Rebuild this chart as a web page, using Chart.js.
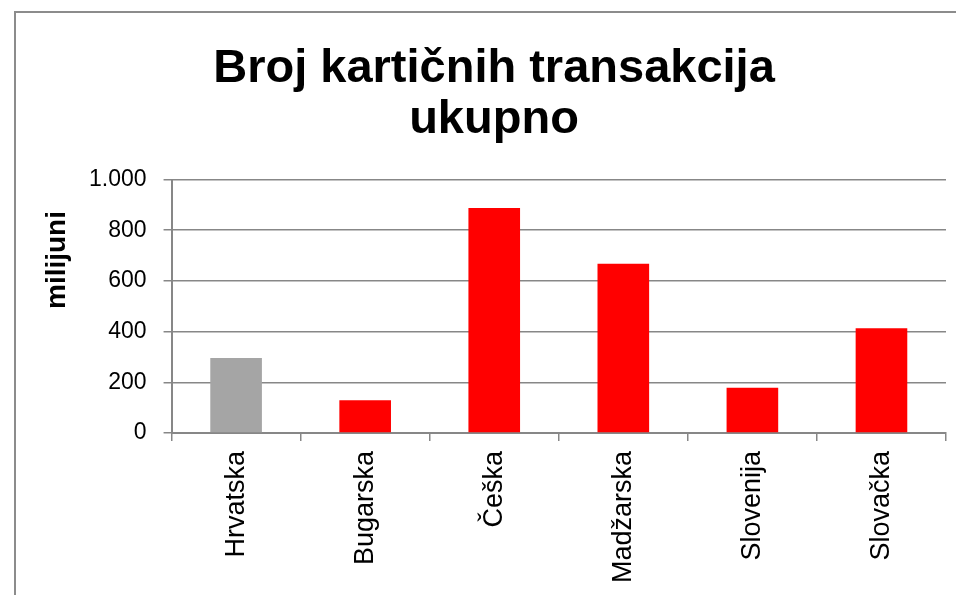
<!DOCTYPE html>
<html>
<head>
  <meta charset="utf-8">
  <title>Broj kartičnih transakcija ukupno</title>
  <script src="https://cdn.jsdelivr.net/npm/chart.js"></script>
  <style>
    body { margin: 0; background: #fff; }
    #wrap { width: 956px; height: 595px; }
  </style>
</head>
<body>
  <div id="wrap"><canvas id="chart"></canvas></div>

  <script>
    // values (milijuni)
    const countries = ['Hrvatska', 'Bugarska', 'Češka', 'Madžarska', 'Slovenija', 'Slovačka'];
    const transactions = [296, 129, 888, 668, 178, 413];
    const barColors = ['#a5a5a5', '#ff0000', '#ff0000', '#ff0000', '#ff0000', '#ff0000'];
    const yTickLabels = ['0', '200', '400', '600', '800', '1.000'];

    const gridGray = '#878787';

    // frame around the chart + the rotated y axis title
    const framePlugin = {
      id: 'frame',
      beforeDraw(chart) {
        const c = chart.ctx;
        c.save();
        c.fillStyle = '#8c8c8c';
        c.fillRect(14, 11, chart.width - 14, 2);
        c.fillRect(14, 11, 2, chart.height - 11);
        c.restore();
      },
      afterDraw(chart) {
        const c = chart.ctx;
        c.save();
        c.translate(57, 260);
        c.rotate(-Math.PI / 2);
        c.font = 'bold 28px "Liberation Sans", Arial, sans-serif';
        c.fillStyle = '#000';
        c.textAlign = 'center';
        c.textBaseline = 'middle';
        c.fillText('milijuni', 0, 0);
        c.restore();
      }
    };

    const ctx = document.getElementById('chart').getContext('2d');
    const chart = new Chart(ctx, {
      type: 'bar',
      data: {
        labels: countries,
        datasets: [{
          data: transactions,
          backgroundColor: barColors,
          barPercentage: 0.4,
          categoryPercentage: 1.0
        }]
      },
      plugins: [framePlugin],
      options: {
        responsive: true,
        maintainAspectRatio: false,
        animation: false,
        layout: { padding: { left: 42, right: 10, top: 0, bottom: 2 } },
        plugins: {
          legend: { display: false },
          tooltip: { enabled: false },
          title: {
            display: true,
            text: ['Broj kartičnih transakcija', 'ukupno'],
            color: '#000',
            font: { family: '"Liberation Sans", Arial, sans-serif', size: 47, weight: 'bold', lineHeight: 1.08 },
            padding: { top: 44, bottom: 34 }
          }
        },
        scales: {
          x: {
            grid: {
              offset: true,
              drawOnChartArea: false,
              drawTicks: true,
              tickLength: 8,
              color: gridGray,
              lineWidth: 1.5
            },
            border: { color: gridGray, width: 2 },
            ticks: {
              color: '#000',
              autoSkip: false,
              minRotation: 90,
              maxRotation: 90,
              padding: 10,
              font: { family: '"Liberation Sans", Arial, sans-serif', size: 27 }
            }
          },
          y: {
            min: 0,
            max: 1000,
            afterFit(scale) { scale.width += 30; },
            grid: {
              color: gridGray,
              lineWidth: 1.5,
              tickLength: 8
            },
            border: { color: gridGray, width: 2 },
            ticks: {
              stepSize: 200,
              color: '#000',
              padding: 17,
              font: { family: '"Liberation Sans", Arial, sans-serif', size: 23 },
              callback: (v, i) => yTickLabels[i]
            }
          }
        }
      }
    });
  </script>
</body>
</html>
